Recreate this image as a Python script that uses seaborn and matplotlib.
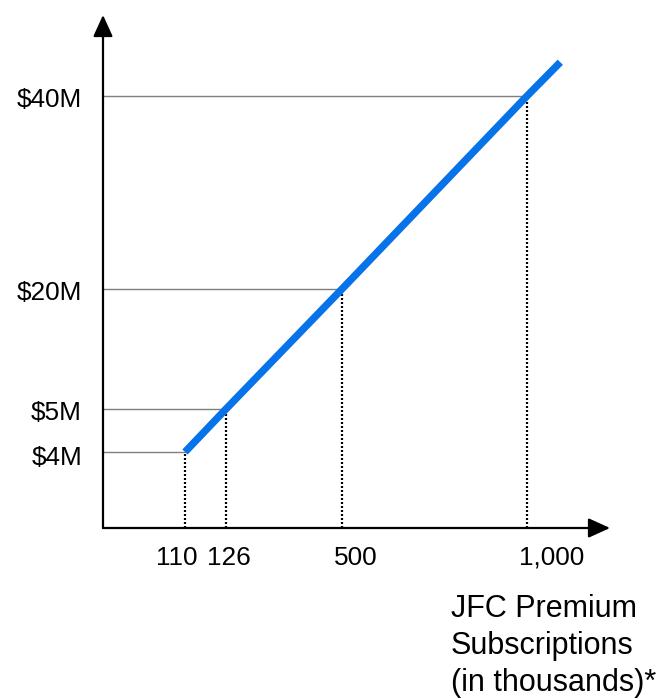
import numpy as np
import matplotlib
matplotlib.use("Agg")
import matplotlib.pyplot as plt
import seaborn as sns

# --- data -------------------------------------------------------------
subscriptions = [110, 126, 500, 1000]          # thousands
revenue = [4, 5, 20, 40]                        # $ millions
x_tick_labels = ["110", "126", "500", "1,000"]
y_tick_labels = ["$4M", "$5M", "$20M", "$40M"]
line_subscriptions = [110, 126, 500, 1000, 1090]
line_revenue = [4, 5, 20, 40, 43.5]
x_title = ["JFC Premium", "Subscriptions", "(in thousands)*"]

# --- styling ----------------------------------------------------------
sns.set_theme(style="white")
plt.rcParams["font.family"] = ["Liberation Sans", "DejaVu Sans"]
FS = 18.8
FS_TITLE = 22
BLUE = "#0773E8"

W, H = 667, 699
fig = plt.figure(figsize=(W / 100, H / 100), dpi=100)


def piecewise(src, dst):
    """Piecewise-linear map with linear extension past both ends."""
    src = np.asarray(src, float)
    dst = np.asarray(dst, float)
    s_lo = (dst[1] - dst[0]) / (src[1] - src[0])
    s_hi = (dst[-1] - dst[-2]) / (src[-1] - src[-2])

    def f(v):
        v = np.asarray(v, float)
        out = np.interp(v, src, dst)
        out = np.where(v < src[0], dst[0] + (v - src[0]) * s_lo, out)
        out = np.where(v > src[-1], dst[-1] + (v - src[-1]) * s_hi, out)
        return out
    return f


# schematic (non-proportional) axis scales
x_knots_px = [185, 226, 342, 527]
y_knots_px = [H - 452, H - 409, H - 289, H - 96]
fx, ix = piecewise(subscriptions, x_knots_px), piecewise(x_knots_px, subscriptions)
fy, iy = piecewise(revenue, y_knots_px), piecewise(y_knots_px, revenue)

ax_left, ax_right, ax_bottom, ax_top = 103, 610, 528, 15
ax = fig.add_axes([ax_left / W, (H - ax_bottom) / H,
                   (ax_right - ax_left) / W, (ax_bottom - ax_top) / H])
ax.set_xscale("function", functions=(fx, ix))
ax.set_yscale("function", functions=(fy, iy))
x0, x1 = float(ix(ax_left)), float(ix(ax_right))
y0, y1 = float(iy(H - ax_bottom)), float(iy(H - ax_top))
ax.set_xlim(x0, x1)
ax.set_ylim(y0, y1)

for s in ax.spines.values():
    s.set_visible(False)
ax.set_xticks([])
ax.set_yticks([])
ax.patch.set_alpha(0)

# guide lines from each axis to the curve
for xv, yv in zip(subscriptions, revenue):
    ax.plot([x0, xv], [yv, yv], color="#7f7f7f", lw=1.0, zorder=1)
    ax.plot([xv, xv], [y0, yv], color="black", lw=1.6,
            linestyle=(0, (0.9, 0.9)), zorder=1)

# revenue curve
sns.lineplot(x=line_subscriptions, y=line_revenue, ax=ax, color=BLUE,
             lw=5.3, zorder=3, solid_capstyle="butt", sort=False)

# axes with arrowheads
arrow = dict(arrowstyle="-|>,head_length=1.1,head_width=0.5",
             lw=1.6, color="black", shrinkA=0, shrinkB=0)
ax.annotate("", xy=(0, 1), xytext=(0, 0), xycoords="axes fraction",
            arrowprops=arrow, annotation_clip=False)
ax.annotate("", xy=(1, 0), xytext=(0, 0), xycoords="axes fraction",
            arrowprops=arrow, annotation_clip=False)

# tick labels
x_offsets = [-8, 3, 14, 25]
for xv, lab, dx in zip(subscriptions, x_tick_labels, x_offsets):
    ax.annotate(lab, xy=(xv, 0), xycoords=("data", "axes fraction"),
                xytext=(dx, -37), textcoords="offset pixels",
                ha="center", va="baseline", fontsize=FS, color="black",
                annotation_clip=False)

y_offsets = [-13, -11, -11, -11]
for yv, lab, dy in zip(revenue, y_tick_labels, y_offsets):
    ax.annotate(lab, xy=(0, yv), xycoords=("axes fraction", "data"),
                xytext=(-21, dy), textcoords="offset pixels",
                ha="right", va="baseline", fontsize=FS, color="black",
                annotation_clip=False)

# x-axis title
for i, line in enumerate(x_title):
    fig.text(451 / W, 1 - (617 + 37 * i) / H, line, ha="left",
             va="baseline", fontsize=FS_TITLE, color="black")

fig.savefig("out.png", dpi=100)
